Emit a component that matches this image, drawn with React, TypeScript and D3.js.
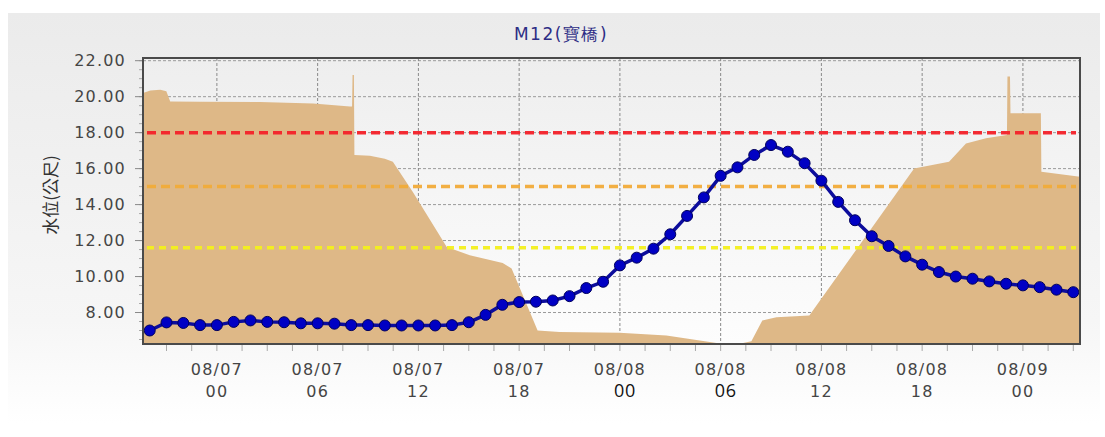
import React from "react";
import * as d3 from "d3";

// hourly water level, starting 08/06 20:00
const levelStart = "2018-08-06T20:00:00";
const levelValues = [
  7.0, 7.45, 7.42, 7.3, 7.3, 7.48, 7.56, 7.48, 7.46, 7.4,
  7.4, 7.38, 7.3, 7.3, 7.28, 7.28, 7.28, 7.28, 7.3, 7.46,
  7.87, 8.43, 8.58, 8.6, 8.67, 8.91, 9.36, 9.71, 10.62, 11.05,
  11.55, 12.35, 13.37, 14.4, 15.6, 16.07, 16.76, 17.31, 16.94, 16.3,
  15.33, 14.15, 13.13, 12.24, 11.7, 11.12, 10.66, 10.25, 10.0, 9.88,
  9.73, 9.6, 9.51, 9.41, 9.27, 9.13,
];

// background (brown) series: hours after 08/07 00:00, value
const groundHours = [
  -4.4, -3.96, -3.37, -3.01, -2.78, -1.0, 2.57, 5.73, 7.93, 8.05, 8.08, 8.16, 8.19,
  9.11, 10.0, 10.48, 11.67, 13.69, 15.06, 17.02, 17.55, 19.1, 20.41, 23.98, 26.77,
  29.75, 31.12, 31.83, 32.48, 33.32, 35.28, 41.52, 43.6, 44.61, 45.8, 47.05, 47.08,
  47.23, 47.26, 49.07, 49.1, 51.4,
];
const groundValues = [
  20.2, 20.35, 20.38, 20.3, 19.73, 19.72, 19.7, 19.62, 19.45, 19.45, 21.2, 21.2, 16.76,
  16.72, 16.55, 16.38, 14.7, 11.64, 11.18, 10.75, 10.45, 7.0, 6.92, 6.87, 6.72,
  6.31, 6.27, 6.4, 7.56, 7.74, 7.83, 16.0, 16.38, 17.4, 17.69, 17.87, 21.12,
  21.12, 19.08, 19.08, 15.83, 15.55,
];

const warnLevels = [
  { value: 18, color: "#f5222a", dash: "9,5" },
  { value: 15, color: "#f2ac3a", dash: "9,5" },
  { value: 11.6, color: "#f4f01c", dash: "7,5" },
];

const yTicks = [8, 10, 12, 14, 16, 18, 20, 22];
const xTickLabels = [
  ["08/07", "00"], ["08/07", "06"], ["08/07", "12"], ["08/07", "18"],
  ["08/08", "00"], ["08/08", "06"], ["08/08", "12"], ["08/08", "18"], ["08/09", "00"],
];

const W = 1105;
const H = 437;
const plot = { left: 143, right: 1080, top: 58, bottom: 344 };
const HOUR = 3600 * 1000;
const base = new Date("2018-08-07T00:00:00").getTime();

const App = () => {
  const x = d3
    .scaleTime()
    .domain([new Date(base - 4.4 * HOUR), new Date(base + 51.4 * HOUR)])
    .range([plot.left, plot.right]);
  const y = d3.scaleLinear().domain([6.25, 22.15]).range([plot.bottom, plot.top]);

  const start = new Date(levelStart).getTime();
  const level = levelValues.map((v, i) => ({ t: new Date(start + i * HOUR), v }));
  const ground = groundHours.map((h, i) => ({ t: new Date(base + h * HOUR), v: groundValues[i] }));

  const area = d3
    .area<{ t: Date; v: number }>()
    .x((d) => x(d.t))
    .y0(plot.bottom)
    .y1((d) => y(d.v));
  const line = d3
    .line<{ t: Date; v: number }>()
    .x((d) => x(d.t))
    .y((d) => y(d.v));

  const majorX = xTickLabels.map((_, i) => new Date(base + i * 6 * HOUR));
  const minorX = d3.range(-3, 51.1, 1.5).map((h) => new Date(base + h * HOUR));
  const minorY = d3.range(6.5, 22.1, 0.5);

  const font = "'DejaVu Sans', Verdana, sans-serif";

  return (
    <div style={{ position: "absolute", left: 0, top: 0 }}>
      <svg width={W} height={H} viewBox={`0 0 ${W} ${H}`}>
        <defs>
          <linearGradient id="panel" x1="0" y1="0" x2="0" y2="1">
            <stop offset="0" stopColor="#ebebeb" />
            <stop offset="0.75" stopColor="#f6f6f6" />
            <stop offset="1" stopColor="#ffffff" />
          </linearGradient>
          <linearGradient id="plotBg" x1="0" y1="0" x2="0" y2="1">
            <stop offset="0" stopColor="#eeeeee" />
            <stop offset="1" stopColor="#fdfdfd" />
          </linearGradient>
          <clipPath id="clip">
            <rect x={plot.left} y={plot.top} width={plot.right - plot.left} height={plot.bottom - plot.top} />
          </clipPath>
        </defs>
        <rect x={0} y={0} width={W} height={H} fill="#ffffff" />
        <rect x={8} y={13} width={1092} height={410} fill="url(#panel)" />
        <text x={561} y={40} textAnchor="middle" fontFamily={font} fontSize={17}
          letterSpacing={1.5} fill="#2d2d85">
          M12(寶橋)
        </text>

        <rect
          x={plot.left}
          y={plot.top}
          width={plot.right - plot.left}
          height={plot.bottom - plot.top}
          fill="url(#plotBg)"
        />

        {/* grid */}
        {yTicks.map((v) => (
          <line key={"gy" + v} x1={plot.left} x2={plot.right} y1={y(v)} y2={y(v)}
            stroke="#9a9a9a" strokeWidth={1} strokeDasharray="3,2" />
        ))}
        {majorX.map((t, i) => (
          <line key={"gx" + i} x1={x(t)} x2={x(t)} y1={plot.top} y2={plot.bottom}
            stroke="#8a8a8a" strokeWidth={1} strokeDasharray="3,2" />
        ))}

        <g clipPath="url(#clip)">
          <path d={area(ground) ?? ""} fill="#deb887" />
          {warnLevels.map((w) => (
            <line key={"w" + w.value} x1={plot.left + 4} x2={plot.right - 4} y1={y(w.value)} y2={y(w.value)}
              stroke={w.color} strokeWidth={3.5} strokeDasharray={w.dash} opacity={0.95} />
          ))}
          <path d={line(level) ?? ""} fill="none" stroke="#0c0c9c" strokeWidth={3.5} />
          {level.map((d, i) => (
            <circle key={"p" + i} cx={x(d.t)} cy={y(d.v)} r={5.5} fill="#0000c4" stroke="#00005c" strokeWidth={1} />
          ))}
        </g>

        {/* frame */}
        <rect
          x={plot.left}
          y={plot.top}
          width={plot.right - plot.left}
          height={plot.bottom - plot.top}
          fill="none"
          stroke="#4a4a4a"
          strokeWidth={2}
        />

        {/* y axis */}
        {minorY.map((v, i) => (
          <line key={"my" + i} x1={plot.left - 4} x2={plot.left - 1} y1={y(v)} y2={y(v)} stroke="#aaaaaa" strokeWidth={1} />
        ))}
        {yTicks.map((v) => (
          <g key={"ty" + v}>
            <line x1={plot.left - 8} x2={plot.left - 1} y1={y(v)} y2={y(v)} stroke="#888888" strokeWidth={1} />
            <text x={126} y={y(v)} dy="0.36em" textAnchor="end" fontFamily={font} fontSize={16}
              letterSpacing={1.2} fill="#454545">
              {d3.format(".2f")(v)}
            </text>
          </g>
        ))}
        <text
          transform={`translate(57,195) rotate(-90)`}
          textAnchor="middle"
          fontFamily="'Noto Sans CJK TC', 'Noto Sans', sans-serif"
          fontSize={17}
          fill="#333333"
        >
          水位(公尺)
        </text>

        {/* x axis */}
        {minorX.map((t, i) => (
          <line key={"mx" + i} x1={x(t)} x2={x(t)} y1={plot.bottom + 1} y2={plot.bottom + 7} stroke="#aaaaaa" strokeWidth={1} />
        ))}
        {majorX.map((t, i) => {
          const edited = i === 4 || i === 5;
          return (
            <g key={"tx" + i}>
              <text x={x(t)} y={375} textAnchor="middle" fontFamily={font} fontSize={16}
                letterSpacing={1.2} fill="#454545">
                {xTickLabels[i][0]}
              </text>
              <text x={x(t) + (edited ? 5 : 0)} y={397} textAnchor="middle"
                fontFamily={edited ? "'Open Sans', sans-serif" : font}
                fontSize={edited ? 18 : 16} letterSpacing={edited ? 0.5 : 1.2}
                fill={edited ? "#111111" : "#454545"}>
                {xTickLabels[i][1]}
              </text>
            </g>
          );
        })}
      </svg>
    </div>
  );
};

export default App;
